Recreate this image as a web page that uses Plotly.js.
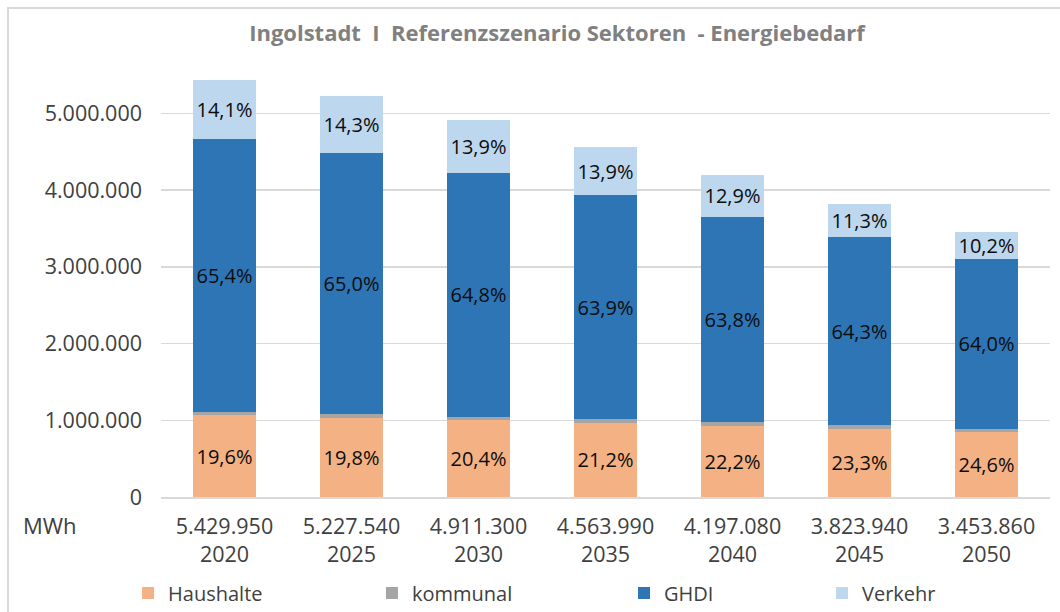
<!DOCTYPE html>
<html>
<head>
<meta charset="utf-8">
<script src="https://cdn.plot.ly/plotly-3.0.1.min.js"></script>
<style>html,body{margin:0;padding:0;background:#fff;}#chart{width:1060px;height:612px;}</style>
</head>
<body>
<div id="chart"></div>
<script>
// ---- data (MWh) ----
const years = ['2020', '2025', '2030', '2035', '2040', '2045', '2050'];
const totals = [5429950, 5227540, 4911300, 4563990, 4197080, 3823940, 3453860];
const haushalte = [1064270, 1035053, 1001905, 967566, 931752, 890978, 849650];
const kommunal = [48870, 47048, 44202, 45639, 46168, 42064, 41446];
const ghdi = [3551187, 3397901, 3182522, 2916390, 2677737, 2458793, 2210470];
const verkehr = [765623, 747538, 682671, 634395, 541423, 432105, 352294];
const haushaltePct = ['19,6%', '19,8%', '20,4%', '21,2%', '22,2%', '23,3%', '24,6%'];
const ghdiPct = ['65,4%', '65,0%', '64,8%', '63,9%', '63,8%', '64,3%', '64,0%'];
const verkehrPct = ['14,1%', '14,3%', '13,9%', '13,9%', '12,9%', '11,3%', '10,2%'];
const yTicks = [0, 1000000, 2000000, 3000000, 4000000, 5000000];

function fmt(n) {
  return String(Math.round(n)).replace(/\B(?=(\d{3})+(?!\d))/g, '.');
}
const xTickText = years.map((y, i) => fmt(totals[i]) + '<br>' + y);

const FONT = 'Open Sans, Noto Sans, sans-serif';
const labelFont = {family: FONT, size: 20, color: '#0D0D0D'};

function bar(name, vals, color, text, legendId) {
  return {
    type: 'bar', name: name, x: years, y: vals,
    marker: {color: color, line: {width: 0}},
    text: text, textposition: text ? 'inside' : 'none',
    insidetextanchor: 'middle', textfont: labelFont,
    hoverinfo: 'skip', legend: legendId
  };
}

const traces = [
  bar('Haushalte', haushalte, '#F4B183', haushaltePct, 'legend'),
  bar('kommunal', kommunal, '#A5A5A5', null, 'legend2'),
  bar('GHDI', ghdi, '#2E75B6', ghdiPct, 'legend3'),
  bar('Verkehr', verkehr, '#BDD7EE', verkehrPct, 'legend4')
];

const legFont = {family: FONT, size: 20, color: '#404040'};
function leg(x) {
  return {orientation: 'h', xref: 'container', yref: 'container',
          x: x, xanchor: 'left', y: 0.031, yanchor: 'middle',
          font: legFont, bgcolor: 'rgba(0,0,0,0)'};
}

const layout = {
  width: 1060, height: 612,
  margin: {l: 161, r: 10, t: 75, b: 115},
  paper_bgcolor: '#ffffff', plot_bgcolor: '#ffffff',
  separators: ',.',
  font: {family: FONT, color: '#404040'},
  barmode: 'stack', bargap: 0.5,
  uniformtext: {mode: 'show', minsize: 20},
  title: {
    text: 'Ingolstadt\u00a0\u00a0I\u00a0\u00a0Referenzszenario Sektoren\u00a0\u00a0- Energiebedarf',
    font: {family: FONT, size: 22, color: '#808080', weight: 'bold'},
    xref: 'container', x: 0.5255, xanchor: 'center',
    yref: 'container', y: 0.946, yanchor: 'middle'
  },
  xaxis: {
    type: 'category', tickvals: years, ticktext: xTickText,
    tickfont: {family: FONT, size: 21.5, color: '#404040'},
    showline: true, linecolor: '#D9D9D9', linewidth: 1.5,
    ticks: '', showgrid: false, fixedrange: true,
    automargin: false, ticklabelstandoff: 10
  },
  yaxis: {
    range: [0, 5500000], tickvals: yTicks, tickformat: ',d',
    tickfont: {family: FONT, size: 21.5, color: '#404040'},
    showgrid: true, gridcolor: '#D9D9D9', gridwidth: 1.5,
    zeroline: false, showline: false, ticks: '',
    ticklabelstandoff: 18, fixedrange: true, automargin: false
  },
  showlegend: true,
  legend: leg(0.1208),
  legend2: leg(0.3509),
  legend3: leg(0.5887),
  legend4: leg(0.7755),
  annotations: [{
    text: 'MWh', xref: 'paper', yref: 'paper', x: -0.1575, y: (497 - 525) / 422,
    xanchor: 'left', yanchor: 'middle', showarrow: false,
    font: {family: FONT, size: 22, color: '#404040'}
  }],
  shapes: [{
    type: 'rect', xref: 'paper', yref: 'paper',
    x0: (8 - 161) / 889, x1: 1.05, y0: -0.4, y1: (497 - 8) / 422,
    line: {color: '#D9D9D9', width: 2}, fillcolor: 'rgba(0,0,0,0)', layer: 'below'
  }]
};

Plotly.newPlot('chart', traces, layout, {displayModeBar: false, staticPlot: true});
</script>
</body>
</html>
